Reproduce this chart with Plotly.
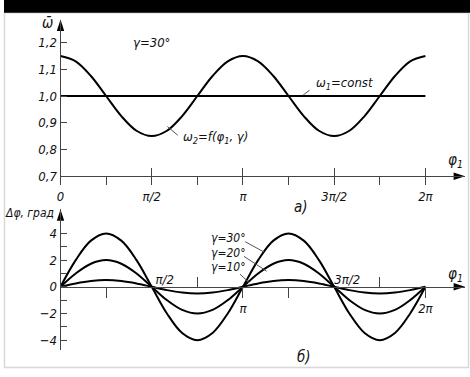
import math
import plotly.graph_objects as go

PI = math.pi

# ---------------- data ----------------
phi = [k * PI / 12 for k in range(25)]

omega2 = [1.15, 1.13, 1.075, 1.0, 0.925, 0.87, 0.85, 0.87, 0.925, 1.0, 1.075, 1.13,
          1.15, 1.13, 1.075, 1.0, 0.925, 0.87, 0.85, 0.87, 0.925, 1.0, 1.075, 1.13, 1.15]
omega1_phi = [0.0, 2 * PI]
omega1 = [1.0, 1.0]

dphi_30 = [0, 2.0, 3.46, 4.0, 3.46, 2.0, 0, -2.0, -3.46, -4.0, -3.46, -2.0,
           0, 2.0, 3.46, 4.0, 3.46, 2.0, 0, -2.0, -3.46, -4.0, -3.46, -2.0, 0]
dphi_20 = [0, 1.0, 1.73, 2.0, 1.73, 1.0, 0, -1.0, -1.73, -2.0, -1.73, -1.0,
           0, 1.0, 1.73, 2.0, 1.73, 1.0, 0, -1.0, -1.73, -2.0, -1.73, -1.0, 0]
dphi_10 = [0, 0.25, 0.43, 0.5, 0.43, 0.25, 0, -0.25, -0.43, -0.5, -0.43, -0.25,
           0, 0.25, 0.43, 0.5, 0.43, 0.25, 0, -0.25, -0.43, -0.5, -0.43, -0.25, 0]

top_x_tickvals = [k * PI / 4 for k in range(9)]
top_x_ticktext = ["0", "", "π/2", "", "π", "", "3π/2", "", "2π"]
top_x_cross = [PI / 2, PI, 3 * PI / 2, 2 * PI]
top_y_tickvals = [0.7, 0.8, 0.9, 1.0, 1.1, 1.2]
top_y_ticktext = ["0,7", "0,8", "0,9", "1,0", "1,1", "1,2"]

bot_x_below_vals = [PI / 4, PI, 5 * PI / 4, 2 * PI]
bot_x_below_text = ["", "π", "", "2π"]
bot_x_above_ticks = [3 * PI / 4, 7 * PI / 4]
bot_x_above_vals = [PI / 2, 3 * PI / 2]
bot_x_above_text = ["π/2", "3π/2"]
bot_y_tickvals = [-4, -2, 0, 2, 4]
bot_y_ticktext = ["−4", "−2", "0", "2", "4"]
bot_y_minor = [-3, -1, 1, 3]

# ---------------- geometry ----------------
W, H = 470, 377
X0, X2PI, XEND = 57, 425, 465
XR = [0, 2 * PI * (XEND - X0) / (X2PI - X0)]
xdom = [X0 / W, XEND / W]


def py(yp):
    return 1 - yp / H


T_BOT, T_TOP, T_SCALE = 180, 20, 273.0       # top panel: px of 0.7, arrow tip, px per unit
ydom1 = [py(T_BOT), py(T_TOP)]
yr1 = [0.7, 0.7 + (T_BOT - T_TOP) / T_SCALE]

B_BOT, B_TOP, B_ZERO, B_SCALE = 358, 214, 293, 13.625
ydom2 = [py(B_BOT), py(B_TOP)]
yr2 = [-(B_BOT - B_ZERO) / B_SCALE, (B_ZERO - B_TOP) / B_SCALE]
xpos2 = py(B_ZERO)

FONT = "DejaVu Sans Condensed, Liberation Sans Narrow, sans-serif"
tf = dict(family=FONT, size=13, color="#111", style="italic")
AX = "#444"

fig = go.Figure()
line = dict(color="black", width=2, shape="spline", smoothing=1.0)

fig.add_trace(go.Scatter(x=phi, y=omega2, mode="lines", line=line, xaxis="x", yaxis="y"))
fig.add_trace(go.Scatter(x=omega1_phi, y=omega1, mode="lines",
                         line=dict(color="black", width=2), xaxis="x", yaxis="y"))
for d in (dphi_30, dphi_20, dphi_10):
    fig.add_trace(go.Scatter(x=phi, y=d, mode="lines", line=line, xaxis="x2", yaxis="y2"))


def arrow(x, y, ang, xa, ya):
    fig.add_trace(go.Scatter(x=[x], y=[y], mode="markers", xaxis=xa, yaxis=ya, cliponaxis=False,
                             marker=dict(symbol="arrow", angle=ang, size=12, color="black",
                                         line=dict(width=0))))


arrow(0, yr1[1], 0, "x", "y")
arrow(XR[1], 0.7, 90, "x", "y")
arrow(0, yr2[1], 0, "x2", "y2")
arrow(XR[1], 0, 90, "x2", "y2")

common_x = dict(range=XR, domain=xdom, showgrid=False, zeroline=False, showline=True,
                linecolor=AX, linewidth=1, tickcolor=AX, tickwidth=1, tickfont=tf,
                tickmode="array", fixedrange=True)

fig.update_layout(
    width=W, height=H, margin=dict(l=0, r=0, t=0, b=0),
    paper_bgcolor="white", plot_bgcolor="rgba(0,0,0,0)", showlegend=False,
    xaxis=dict(**common_x, anchor="y", tickvals=top_x_tickvals, ticktext=top_x_ticktext,
               ticks="outside", ticklen=8,
               minor=dict(tickmode="array", tickvals=top_x_cross, ticks="inside", ticklen=8,
                          tickcolor=AX, tickwidth=1)),
    yaxis=dict(range=yr1, domain=ydom1, anchor="x", showgrid=False, zeroline=False,
               showline=True, linecolor=AX, linewidth=1, tickmode="array",
               tickvals=top_y_tickvals, ticktext=top_y_ticktext, ticks="inside", ticklen=6,
               tickcolor=AX, tickfont=tf, fixedrange=True),
    xaxis2=dict(**common_x, anchor="free", position=xpos2,
                tickvals=bot_x_below_vals, ticktext=bot_x_below_text, ticks="outside", ticklen=10,
                minor=dict(tickmode="array", tickvals=bot_x_above_ticks, ticks="inside", ticklen=10,
                           tickcolor=AX, tickwidth=1)),
    xaxis3=dict(range=XR, domain=xdom, overlaying="x2", anchor="free", position=xpos2, side="top",
                showgrid=False, zeroline=False, showline=False, ticks="", tickmode="array",
                tickvals=bot_x_above_vals, ticktext=bot_x_above_text, tickfont=tf,
                ticklabelshift=13, fixedrange=True),
    yaxis2=dict(range=yr2, domain=ydom2, anchor="x2", showgrid=False, zeroline=False,
                showline=True, linecolor=AX, linewidth=1, tickmode="array",
                tickvals=bot_y_tickvals, ticktext=bot_y_ticktext, ticks="inside", ticklen=6,
                tickcolor=AX, tickfont=tf, fixedrange=True,
                minor=dict(tickmode="array", tickvals=bot_y_minor, ticks="inside", ticklen=6,
                           tickcolor=AX, tickwidth=1)),
)
fig.add_trace(go.Scatter(x=[PI], y=[0], mode="markers", marker=dict(opacity=0),
                         xaxis="x3", yaxis="y2", hoverinfo="skip"))

# black strip on top and faint page frame
fig.add_shape(type="rect", xref="paper", yref="paper", x0=0, x1=1, y0=py(13), y1=1.01,
              fillcolor="black", line=dict(width=0), layer="above")
fig.add_shape(type="rect", xref="paper", yref="paper", x0=0.5 / W, x1=1 - 1.5 / W,
              y0=1.5 / H, y1=py(13), line=dict(color="#d8d8d8", width=1.5), layer="below")


def txt(x, y, s, xref="paper", yref="paper", xanchor="center", size=13):
    fig.add_annotation(x=x, y=y, xref=xref, yref=yref, text=s, showarrow=False,
                       xanchor=xanchor, yanchor="middle",
                       font=dict(family=FONT, size=size, color="#111", style="italic"))


def px(xp, yp):
    return xp / W, py(yp)


txt(*px(44, 23), "ω\u0304", size=15)
txt(*px(52, 218), "Δφ, град", xanchor="right", size=12)
txt(*px(455, 164), "φ<sub>1</sub>", size=15)
txt(*px(455, 280), "φ<sub>1</sub>", size=15)
txt(*px(300, 211), "а)", size=15)
txt(*px(303, 365), "б)", size=15)

txt(PI / 2, 1.2, "γ=30°", "x", "y")
txt(4.37, 1.045, "ω<sub>1</sub>=const", "x", "y", xanchor="left")
txt(2.07, 0.843, "ω<sub>2</sub>=f(φ<sub>1</sub>, γ)", "x", "y", xanchor="left")
txt(2.56, 3.67, "γ=30°", "x2", "y2", xanchor="left", size=12)
txt(2.56, 2.57, "γ=20°", "x2", "y2", xanchor="left", size=12)
txt(2.56, 1.47, "γ=10°", "x2", "y2", xanchor="left", size=12)

leaders = [
    ("x", "y", 4.18, 1.004, 4.29, 1.022),
    ("x", "y", 1.84, 0.886, 2.02, 0.853),
    ("x2", "y2", 3.18, 3.38, 3.52, 2.57),
    ("x2", "y2", 3.16, 2.28, 3.55, 1.17),
    ("x2", "y2", 3.09, 0.95, 3.25, 0.30),
]
for xa, ya, xa0, ya0, xa1, ya1 in leaders:
    fig.add_shape(type="line", xref=xa, yref=ya, x0=xa0, y0=ya0, x1=xa1, y1=ya1,
                  line=dict(color="#555", width=1))

fig.write_html("out.html")
